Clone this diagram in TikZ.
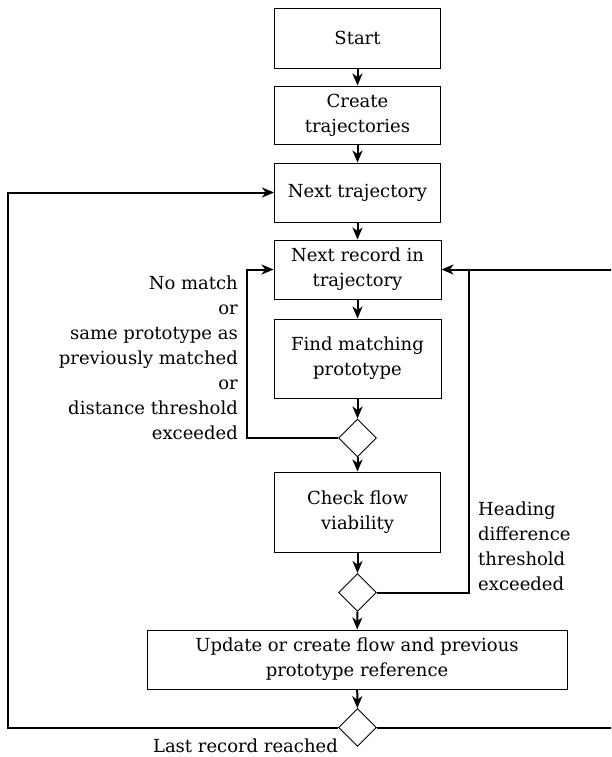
\documentclass[tikz,border=0pt]{standalone}
\usepackage{fontspec}
\setmainfont{DejaVu Serif}
\usetikzlibrary{arrows.meta,shapes.geometric}
\begin{document}
\begin{tikzpicture}[x=1pt,y=-1pt,
  font=\fontsize{18}{25}\selectfont,
  box/.style={draw, line width=0.9pt, align=center, inner sep=0pt, minimum width=#1},
  box/.default=166pt,
  dia/.style={draw, line width=0.9pt, diamond, minimum width=38pt, minimum height=38pt, inner sep=0pt},
  conn/.style={line width=2pt, -{Stealth[length=12pt,width=10pt,inset=3.5pt]}},
  line/.style={line width=2pt},
  lbl/.style={inner sep=0pt}]
\useasboundingbox (0,0) rectangle (611,757);
\clip (0,0) rectangle (611,757);
\node[box, minimum height=60pt] (start) at (357.5,38) {Start};
\node[box, minimum height=58pt] (create) at (357.5,115) {Create\\trajectories};
\node[box, minimum height=59pt] (ntraj) at (357.5,192.5) {Next trajectory};
\node[box=167pt, minimum height=59pt] (nrec) at (357.5,269.5) {Next record in\\trajectory};
\node[box=167pt, minimum height=79pt] (find) at (357.5,358.5) {Find matching\\prototype};
\node[dia] (d1) at (357.5,438) {};
\node[box, minimum height=80pt] (check) at (357.5,512) {Check flow\\viability};
\node[dia] (d2) at (357.5,592.5) {};
\node[box=420pt, minimum height=59pt] (update) at (357,659.5) {Update or create flow and previous\\prototype reference};
\node[dia] (d3) at (357.5,727.5) {};

\coordinate (l1a) at (247,438);
\coordinate (l1b) at (247,269.5);
\coordinate (l2a) at (469,592.5);
\coordinate (l2b) at (469,269.5);
\coordinate (l3a) at (618,727.5);
\coordinate (l3b) at (618,269.5);
\coordinate (l4a) at (7.5,727.5);
\coordinate (l4b) at (7.5,192.5);

\draw[conn] (start) -- (create);
\draw[conn] (create) -- (ntraj);
\draw[conn] (ntraj) -- (nrec);
\draw[conn] (nrec) -- (find);
\draw[conn] (find) -- (d1);
\draw[conn] (d1) -- (check);
\draw[conn] (check) -- (d2);
\draw[conn] (d2) -- (update);
\draw[conn] (update) -- (d3);

\draw[conn] (d1.west) -- (l1a) -- (l1b) -- (nrec.west);
\draw[line] (d2.east) -- (l2a) -- (l2b);
\draw[conn] (d3.east) -- (l3a) -- (l3b) -- (nrec.east);
\draw[conn] (d3.west) -- (l4a) -- (l4b) -- (ntraj.west);

\node[lbl, anchor=east, align=right] (lab1) at (238,358) {No match\\or\\same prototype as\\previously matched\\or\\distance threshold\\exceeded};
\node[lbl, anchor=west, align=left] (lab2) at (478,546) {Heading\\difference\\threshold\\exceeded};
\node[lbl, anchor=base east] (lab3) at (338,752) {Last record reached};
\end{tikzpicture}
\end{document}
